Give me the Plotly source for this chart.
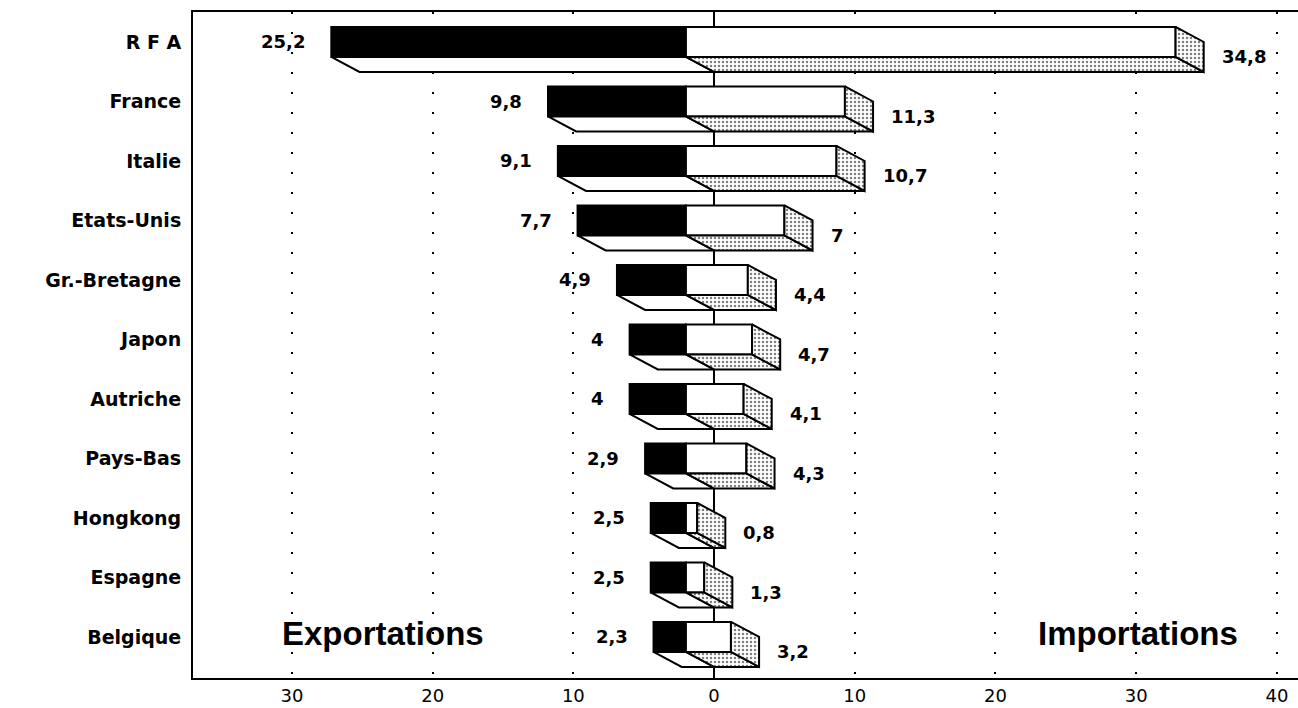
import plotly.graph_objects as go

# ---------------- data ----------------
categories = ["R F A", "France", "Italie", "Etats-Unis", "Gr.-Bretagne", "Japon",
              "Autriche", "Pays-Bas", "Hongkong", "Espagne", "Belgique"]
exports = [25.2, 9.8, 9.1, 7.7, 4.9, 4.0, 4.0, 2.9, 2.5, 2.5, 2.3]
imports = [34.8, 11.3, 10.7, 7.0, 4.4, 4.7, 4.1, 4.3, 0.8, 1.3, 3.2]
export_labels = ["25,2", "9,8", "9,1", "7,7", "4,9", "4", "4", "2,9", "2,5", "2,5", "2,3"]
import_labels = ["34,8", "11,3", "10,7", "7", "4,4", "4,7", "4,1", "4,3", "0,8", "1,3", "3,2"]
tick_vals = [-30, -20, -10, 0, 10, 20, 30, 40]
tick_text = ["30", "20", "10", "0", "10", "20", "30", "40"]

# ---------------- style ----------------
DX = 2.0          # 3D depth along x (axis units)
BAR_H = 0.504     # front face thickness (row units)
DY = BAR_H / 2    # 3D depth along y (row units)
LINE_W = 2
FONT = "DejaVu Sans"

rows = list(range(len(categories)))

fig = go.Figure()

# front faces (bars)
fig.add_trace(go.Bar(y=rows, x=[-e for e in exports], base=-DX, orientation="h",
                     width=BAR_H, marker=dict(color="black", line=dict(color="black", width=LINE_W)),
                     hoverinfo="skip"))
fig.add_trace(go.Bar(y=rows, x=imports, base=-DX, orientation="h",
                     width=BAR_H, marker=dict(color="white", line=dict(color="black", width=LINE_W)),
                     hoverinfo="skip"))

# 3D faces
exb_x, exb_y = [], []
imb_x, imb_y = [], []
ims_x, ims_y = [], []
for i, (e, m) in enumerate(zip(exports, imports)):
    yt = i - BAR_H / 2
    yb = i + BAR_H / 2
    exb_x += [-DX - e, -DX, 0, -e, -DX - e, None]
    exb_y += [yb, yb, yb + DY, yb + DY, yb, None]
    imb_x += [-DX, -DX + m, m, 0, -DX, None]
    imb_y += [yb, yb, yb + DY, yb + DY, yb, None]
    ims_x += [-DX + m, m, m, -DX + m, -DX + m, None]
    ims_y += [yt, yt + DY, yb + DY, yb, yt, None]

pattern = dict(shape=".", size=4, solidity=0.3, fgcolor="black", bgcolor="white")
fig.add_trace(go.Scatter(x=exb_x, y=exb_y, mode="lines", fill="toself", fillcolor="white",
                         line=dict(color="black", width=LINE_W), hoverinfo="skip"))
fig.add_trace(go.Scatter(x=imb_x, y=imb_y, mode="lines", fill="toself", fillpattern=pattern,
                         line=dict(color="black", width=LINE_W), hoverinfo="skip"))
fig.add_trace(go.Scatter(x=ims_x, y=ims_y, mode="lines", fill="toself", fillpattern=pattern,
                         line=dict(color="black", width=LINE_W), hoverinfo="skip"))

# value labels
annotations = []
for i, (e, lab) in enumerate(zip(exports, export_labels)):
    annotations.append(dict(x=-DX - e, y=i, text=lab, showarrow=False, xanchor="right",
                            xshift=-24, font=dict(family=FONT, size=18, weight="bold", color="black")))
for i, (m, lab) in enumerate(zip(imports, import_labels)):
    annotations.append(dict(x=m, y=i + DY, text=lab, showarrow=False, xanchor="left",
                            xshift=16, font=dict(family=FONT, size=18, weight="bold", color="black")))
annotations.append(dict(x=-23.5, y=9.95, text="Exportations", showarrow=False,
                        font=dict(family="Liberation Sans, Arial", size=33, weight="bold", color="black")))
annotations.append(dict(x=30.1, y=9.95, text="Importations", showarrow=False,
                        font=dict(family="Liberation Sans, Arial", size=33, weight="bold", color="black")))

fig.update_layout(
    width=1298, height=708,
    margin=dict(l=193, r=0, t=12, b=30, autoexpand=False),
    plot_bgcolor="white", paper_bgcolor="white",
    showlegend=False, barmode="overlay",
    font=dict(family=FONT, color="black"),
    annotations=annotations,
    xaxis=dict(range=[-37.03, 41.5], tickvals=tick_vals, ticktext=tick_text,
               automargin=False,
               showgrid=True, gridcolor="black", gridwidth=2, griddash="2px,18px",
               zeroline=True, zerolinecolor="black", zerolinewidth=2,
               showline=True, linecolor="black", linewidth=2, mirror=True,
               ticks="", 
               tickfont=dict(family=FONT, size=18, color="black")),
    yaxis=dict(range=[10.69, -0.504], tickvals=rows, ticktext=categories,
               automargin=False,
               showgrid=False, zeroline=False,
               showline=True, linecolor="black", linewidth=2,
               ticks="outside", ticklen=6, tickcolor="rgba(0,0,0,0)",
               tickfont=dict(family=FONT, size=19, weight="bold", color="black")),
)

fig.write_html("out.html")
